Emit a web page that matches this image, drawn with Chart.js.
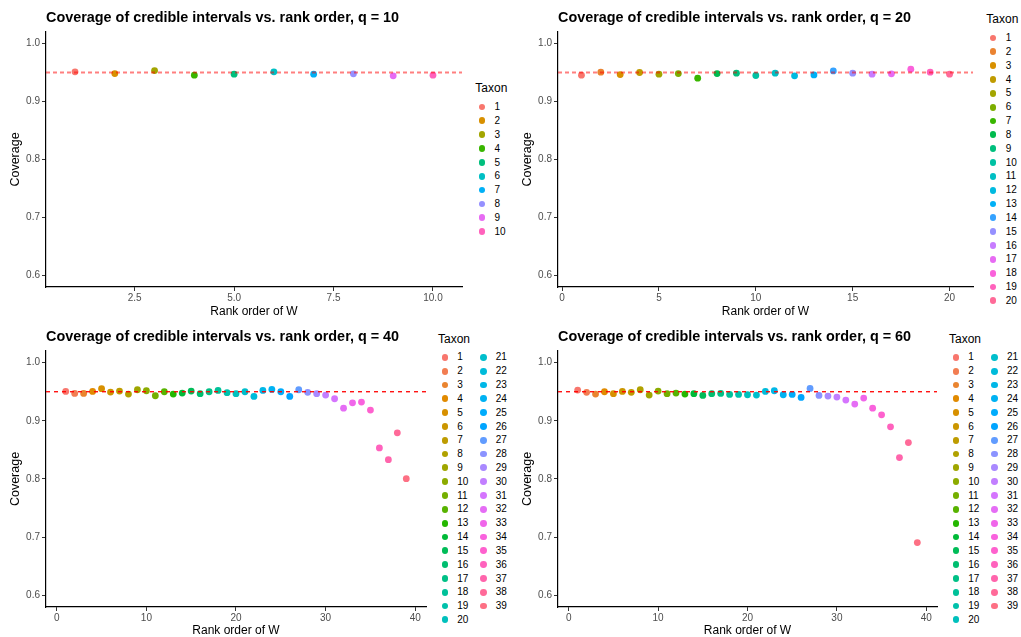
<!DOCTYPE html>
<html>
<head>
<meta charset="utf-8">
<script src="https://cdn.jsdelivr.net/npm/chart.js@4"></script>
<style>
  body { margin: 0; background: #fff; width: 1021px; height: 637px; position: relative; overflow: hidden;
         font-family: "Liberation Sans", Arial, Helvetica, sans-serif; }
  canvas { position: absolute; }
  .legend-title { position: absolute; font-size: 12px; line-height: 12px; color: #000; white-space: nowrap; }
  .legend-key { position: absolute; width: 6.8px; height: 6.8px; border-radius: 50%; }
  .legend-label { position: absolute; font-size: 10px; line-height: 10px; color: #000; white-space: nowrap; }
</style>
</head>
<body>
<canvas id="q10"></canvas>
<canvas id="q20"></canvas>
<canvas id="q40"></canvas>
<canvas id="q60"></canvas>
<script>
// rank order of W (also the taxon id shown in the legend)
const rank10 = [1, 2, 3, 4, 5, 6, 7, 8, 9, 10];
const rank20 = [1, 2, 3, 4, 5, 6, 7, 8, 9, 10, 11, 12, 13, 14, 15, 16, 17, 18, 19, 20];
const rank39 = [1, 2, 3, 4, 5, 6, 7, 8, 9, 10, 11, 12, 13, 14, 15, 16, 17, 18, 19, 20,
                21, 22, 23, 24, 25, 26, 27, 28, 29, 30, 31, 32, 33, 34, 35, 36, 37, 38, 39];

// coverage of the credible intervals per taxon
const coverageQ10 = [0.9512, 0.9483, 0.9535, 0.9455, 0.9472, 0.9512, 0.9472, 0.9478, 0.9443, 0.9455];
const coverageQ20 = [0.9455, 0.9506, 0.9466, 0.9501, 0.9472, 0.9483, 0.9403, 0.9483, 0.9489, 0.9449,
                     0.9489, 0.9443, 0.9460, 0.9529, 0.9489, 0.9472, 0.9478, 0.9558, 0.9506, 0.9472];
const coverageQ40 = [0.9506, 0.9471, 0.9471, 0.9506, 0.9552, 0.9494, 0.9511, 0.9460, 0.9534, 0.9517,
                     0.9431, 0.9500, 0.9460, 0.9477, 0.9511, 0.9466, 0.9500, 0.9523, 0.9483, 0.9466,
                     0.9500, 0.9420, 0.9523, 0.9540, 0.9500, 0.9420, 0.9534, 0.9489, 0.9466, 0.9443,
                     0.9379, 0.9218, 0.9310, 0.9322, 0.9184, 0.8534, 0.8333, 0.8793, 0.8006];
const coverageQ60 = [0.9529, 0.9489, 0.9460, 0.9500, 0.9466, 0.9506, 0.9489, 0.9534, 0.9443, 0.9511,
                     0.9466, 0.9477, 0.9460, 0.9466, 0.9437, 0.9466, 0.9471, 0.9454, 0.9454, 0.9448,
                     0.9443, 0.9506, 0.9517, 0.9448, 0.9454, 0.9402, 0.9557, 0.9437, 0.9425, 0.9408,
                     0.9356, 0.9287, 0.9391, 0.9218, 0.9103, 0.8897, 0.8368, 0.8626, 0.6908];

const nominal = 0.95;

const yTicks = [0.6, 0.7, 0.8, 0.9, 1.0];
const yTickLabels = ['0.6', '0.7', '0.8', '0.9', '1.0'];
const xTicksQ10 = [2.5, 5, 7.5, 10];
const xTickLabelsQ10 = ['2.5', '5.0', '7.5', '10.0'];
const xTicksQ20 = [0, 5, 10, 15, 20];
const xTickLabelsQ20 = ['0', '5', '10', '15', '20'];
const xTicksQ40 = [0, 10, 20, 30, 40];
const xTickLabelsQ40 = ['0', '10', '20', '30', '40'];

// ggplot-style hue palette (hcl with c = 100, l = 65)
function hcl(h, c, l) {
  const hr = h * Math.PI / 180;
  const U = c * Math.cos(hr), V = c * Math.sin(hr);
  const Y = l > 8 ? Math.pow((l + 16) / 116, 3) : l / 903.3;
  const Xn = 0.95047, Yn = 1, Zn = 1.08883;
  const d = Xn + 15 * Yn + 3 * Zn;
  const u = U / (13 * l) + 4 * Xn / d;
  const v = V / (13 * l) + 9 * Yn / d;
  const X = 9 * Y * u / (4 * v);
  const Z = Y * (12 - 3 * u - 20 * v) / (4 * v);
  const lin = [
    3.240479 * X - 1.537150 * Y - 0.498535 * Z,
    -0.969256 * X + 1.875992 * Y + 0.041556 * Z,
    0.055648 * X - 0.204043 * Y + 1.057311 * Z
  ];
  return '#' + lin.map(ch => {
    ch = ch <= 0.0031308 ? 12.92 * ch : 1.055 * Math.pow(ch, 1 / 2.4) - 0.055;
    return Math.round(Math.min(1, Math.max(0, ch)) * 255).toString(16).padStart(2, '0');
  }).join('');
}

function huePalette(n) {
  const cols = [];
  for (let i = 0; i < n; i++) cols.push(hcl(15 + 360 * i / n, 100, 65));
  return cols;
}

const thickLine = { color: 'rgba(255, 0, 0, 0.5)', width: 2, dash: [4, 3] };
const thinLine = { color: '#ff0000', width: 1.3, dash: [4, 4] };

const panels = [
  { id: 'q10', q: 10, rank: rank10, cov: coverageQ10, xTicks: xTicksQ10, xLabels: xTickLabelsQ10,
    xMin: 0.27, xMax: 10.73, line: thickLine,
    box: { left: 0, top: 0, width: 470, height: 318 },
    area: { left: 46, right: 462, top: 32, bottom: 287 }, titleMid: 18.3,
    legend: { titleX: 475.3, titleY: 88.3, y0: 107, step: 13.85, perCol: 20, cols: [{ key: 482, lab: 494.5 }] } },
  { id: 'q20', q: 20, rank: rank20, cov: coverageQ20, xTicks: xTicksQ20, xLabels: xTickLabelsQ20,
    xMin: -0.21, xMax: 21.21, line: thickLine,
    box: { left: 510, top: 0, width: 470, height: 318 },
    area: { left: 48, right: 463, top: 32, bottom: 287 }, titleMid: 18.3,
    legend: { titleX: 986.3, titleY: 19, y0: 38, step: 13.83, perCol: 20, cols: [{ key: 993, lab: 1005.7 }] } },
  { id: 'q40', q: 40, rank: rank39, cov: coverageQ40, xTicks: xTicksQ40, xLabels: xTickLabelsQ40,
    xMin: -1.2, xMax: 41.2, line: thinLine,
    box: { left: 0, top: 318, width: 432, height: 319 },
    area: { left: 46, right: 426, top: 33, bottom: 289 }, titleMid: 19.3,
    legend: { titleX: 438, titleY: 338.7, y0: 357.3, step: 13.82, perCol: 20,
              cols: [{ key: 445, lab: 457.3 }, { key: 483.3, lab: 495.8 }] } },
  { id: 'q60', q: 60, rank: rank39, cov: coverageQ60, xTicks: xTicksQ40, xLabels: xTickLabelsQ40,
    xMin: -1.2, xMax: 41.2, line: thinLine,
    box: { left: 510, top: 318, width: 432, height: 319 },
    area: { left: 48, right: 427, top: 33, bottom: 289 }, titleMid: 19.3,
    legend: { titleX: 949, titleY: 338.7, y0: 357.3, step: 13.82, perCol: 20,
              cols: [{ key: 956, lab: 968.3 }, { key: 994.3, lab: 1007 }] } }
];

Chart.defaults.font.family = '"Liberation Sans", Arial, Helvetica, sans-serif';
Chart.defaults.color = '#000';

function addLegend(p, colours) {
  const lg = p.legend;
  const title = document.createElement('div');
  title.className = 'legend-title';
  title.textContent = 'Taxon';
  title.style.left = lg.titleX + 'px';
  title.style.top = (lg.titleY - 5.9) + 'px';
  document.body.appendChild(title);

  p.rank.forEach((taxon, i) => {
    const col = lg.cols[Math.floor(i / lg.perCol)];
    const y = lg.y0 + (i % lg.perCol) * lg.step;
    const key = document.createElement('div');
    key.className = 'legend-key';
    key.style.background = colours[i];
    key.style.left = (col.key - 3.4) + 'px';
    key.style.top = (y - 3.4) + 'px';
    document.body.appendChild(key);
    const lab = document.createElement('div');
    lab.className = 'legend-label';
    lab.textContent = String(taxon);
    lab.style.left = col.lab + 'px';
    lab.style.top = (y - 4.9) + 'px';
    document.body.appendChild(lab);
  });
}

panels.forEach(p => {
  const canvas = document.getElementById(p.id);
  canvas.width = p.box.width;
  canvas.height = p.box.height;
  canvas.style.left = p.box.left + 'px';
  canvas.style.top = p.box.top + 'px';

  const colours = huePalette(p.rank.length);
  const titleLine = 14.4 * 1.2;
  const titleTop = p.titleMid - titleLine / 2;

  const tickGrid = { display: true, drawOnChartArea: false, drawTicks: true, tickLength: 4, color: '#333333', lineWidth: 1 };
  const axisBorder = { display: true, color: '#000', width: 1.2 };

  new Chart(canvas, {
    type: 'scatter',
    data: {
      datasets: [
        {
          type: 'line',
          data: [{ x: p.xMin, y: nominal }, { x: p.xMax, y: nominal }],
          borderColor: p.line.color,
          borderWidth: p.line.width,
          borderDash: p.line.dash,
          pointRadius: 0,
          fill: false
        },
        {
          data: p.rank.map((r, i) => ({ x: r, y: p.cov[i] })),
          pointRadius: 3.4,
          pointBackgroundColor: colours,
          pointBorderColor: colours,
          pointBorderWidth: 0
        }
      ]
    },
    options: {
      responsive: false,
      animation: false,
      layout: { padding: { left: 0, top: 0, bottom: 0, right: p.box.width - p.area.right } },
      plugins: {
        legend: { display: false },
        tooltip: { enabled: false },
        title: {
          display: true,
          text: 'Coverage of credible intervals vs. rank order, q = ' + p.q,
          align: 'start',
          fullSize: false,
          color: '#000',
          font: { size: 14.4, weight: 'bold', lineHeight: 1.2 },
          padding: { top: titleTop, bottom: p.area.top - titleTop - titleLine }
        }
      },
      scales: {
        x: {
          type: 'linear',
          min: p.xMin,
          max: p.xMax,
          afterBuildTicks: s => { s.ticks = p.xTicks.map(v => ({ value: v })); },
          afterFit: s => { s.height = p.box.height - p.area.bottom; },
          ticks: { callback: (v, i) => p.xLabels[i], color: '#4d4d4d', font: { size: 10 }, padding: 1,
                   maxRotation: 0, autoSkip: false },
          grid: tickGrid,
          border: axisBorder,
          title: { display: true, text: 'Rank order of W', color: '#000', font: { size: 12, lineHeight: 1 }, padding: 0 }
        },
        y: {
          type: 'linear',
          min: 0.58,
          max: 1.02,
          afterBuildTicks: s => { s.ticks = yTicks.map(v => ({ value: v })); },
          afterFit: s => { s.width = p.area.left; },
          ticks: { callback: (v, i) => yTickLabels[i], color: '#4d4d4d', font: { size: 10 }, padding: 2 },
          grid: tickGrid,
          border: axisBorder,
          title: { display: true, text: 'Coverage', color: '#000', font: { size: 12.5, lineHeight: 1 },
                   padding: { top: p.area.left - 30.8 - 6.25, bottom: 0 } }
        }
      }
    }
  });

  addLegend(p, colours);
});
</script>
</body>
</html>
